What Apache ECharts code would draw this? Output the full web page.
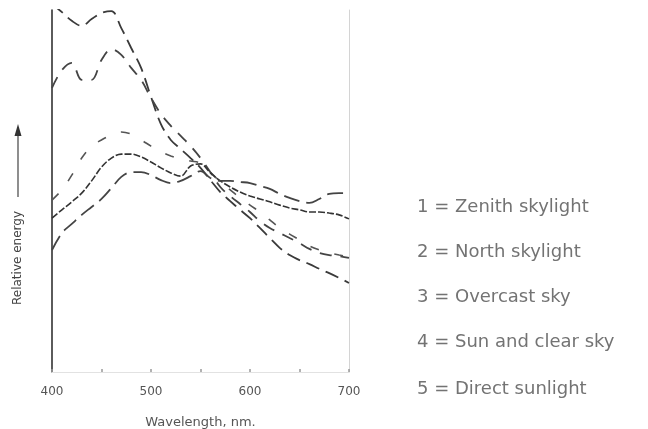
<!DOCTYPE html>
<html>
<head>
<meta charset="utf-8">
<script src="https://cdn.jsdelivr.net/npm/echarts@6/dist/echarts.min.js"></script>
<style>
html,body{margin:0;padding:0;background:#fff;}
#chart{width:648px;height:429px;}
</style>
</head>
<body>
<div id="chart"></div>
<script>
// Wavelength samples (nm)
const wavelengths = [400,410,420,430,440,450,460,470,480,490,500,510,520,530,540,550,560,570,580,590,600,610,620,630,640,650,660,670,680,690,700];
// Relative energy (arbitrary units, 0-100 scale)
const zenithSkylight = [101.7,99.4,97.0,95.6,97.5,99.2,99.7,95.0,89.5,84.0,76.0,68.5,64.1,61.6,59.1,56.4,53.0,49.7,47.2,44.8,42.5,39.8,37.0,34.3,32.3,30.9,29.8,28.5,27.3,26.0,24.6];
const northSkylight = [78.5,83.4,85.4,80.7,80.7,86.2,89.2,87.6,84.0,80.7,75.7,71.3,68.0,65.2,62.4,59.1,55.2,51.1,48.6,46.4,44.2,41.7,39.8,38.4,37.0,35.6,34.0,32.9,32.3,32.0,31.5];
const overcastSky = [47.5,50.3,54.4,59.1,62.4,64.1,65.5,66.3,65.7,64.1,62.4,60.8,59.7,58.8,58.3,57.7,55.2,52.5,50.3,48.1,46.1,44.2,42.0,39.8,38.1,36.5,34.8,33.7,32.9,32.3,31.8];
const sunAndClearSky = [42.5,44.8,47.0,49.4,52.8,56.6,59.1,60.2,60.2,59.4,58.0,56.4,55.0,54.1,56.9,57.5,55.0,52.8,51.1,49.7,48.6,47.8,47.0,46.1,45.3,44.8,44.2,44.2,43.9,43.4,42.3];
const directSunlight = [33.7,38.4,40.9,43.4,45.6,47.8,50.8,53.9,55.2,55.2,54.4,53.0,52.2,52.8,54.1,55.5,53.6,52.8,52.8,52.5,52.2,51.4,50.6,49.2,48.1,47.2,46.7,47.8,49.2,49.4,49.4];
const xTickLabels = ['400','500','600','700'];
const legendLines = ['1 = Zenith skylight','2 = North skylight','3 = Overcast sky','4 = Sun and clear sky','5 = Direct sunlight'];

const chart = echarts.init(document.getElementById('chart'), null, {renderer:'canvas'});
const pair = arr => wavelengths.map((w,i)=>[w, arr[i]]);

const curveStyles = [
  {data: zenithSkylight, type:[14,7], color:'#3a3a3a', width:1.8},
  {data: northSkylight, type:[12,9], color:'#444', width:1.8},
  {data: overcastSky, type:[9,16], color:'#555', width:1.6},
  {data: sunAndClearSky, type:[7,2], color:'#333', width:1.6},
  {data: directSunlight, type:[16,7], color:'#444', width:1.8}
];

const legendTops = [198,243,288,333,380];

chart.setOption({
  animation:false,
  backgroundColor:'#fff',
  grid:{left:52, right:299, top:10, bottom:57, containLabel:false, outerBoundsMode:'none'},
  xAxis:[{
    type:'value', min:400, max:700, interval:50,
    axisLine:{show:false},
    axisTick:{show:true, inside:true, length:3, lineStyle:{color:'#999', width:1.5}},
    splitLine:{show:false},
    axisLabel:{
      margin:14, color:'#555', fontSize:12, fontFamily:'DejaVu Sans',
      formatter: v => xTickLabels.indexOf(String(v)) >= 0 ? String(v) : ''
    },
    name:'Wavelength, nm.', nameLocation:'middle', nameGap:44,
    nameTextStyle:{color:'#555', fontSize:13, fontFamily:'DejaVu Sans'}
  },{
    type:'value', min:400, max:700, position:'top',
    axisLine:{show:true, lineStyle:{color:'#e2e2e2', width:1}},
    axisTick:{show:false}, axisLabel:{show:false}, splitLine:{show:false}
  }],
  yAxis:[{
    type:'value', min:0, max:100,
    axisLine:{show:true, lineStyle:{color:'#333', width:1.6}},
    axisTick:{show:false}, axisLabel:{show:false}, splitLine:{show:false}
  },{
    type:'value', min:0, max:100, position:'right',
    axisLine:{show:true, lineStyle:{color:'#d4d4d4', width:1}},
    axisTick:{show:false}, axisLabel:{show:false}, splitLine:{show:false}
  }],
  series: curveStyles.map(c=>({
    type:'line', data: pair(c.data), smooth:0.35, symbol:'none', clip:true,
    lineStyle:{color:c.color, width:c.width, type:c.type}
  })),
  graphic:[
    {type:'line', shape:{x1:18,y1:197,x2:18,y2:134}, style:{stroke:'#444', lineWidth:1.2}},
    {type:'polygon', shape:{points:[[18,124],[14.5,136],[21.5,136]]}, style:{fill:'#333'}},
    {type:'text', x:12, y:305, rotation:Math.PI/2,
      style:{text:'Relative energy', fill:'#444', font:'12px "DejaVu Sans"', verticalAlign:'top', align:'left'}}
  ].concat(legendLines.map((t,i)=>({
    type:'text', left:417, top:legendTops[i],
    style:{text:t, fill:'#737373', font:'18px "DejaVu Sans"'}
  })))
});
</script>
</body>
</html>
